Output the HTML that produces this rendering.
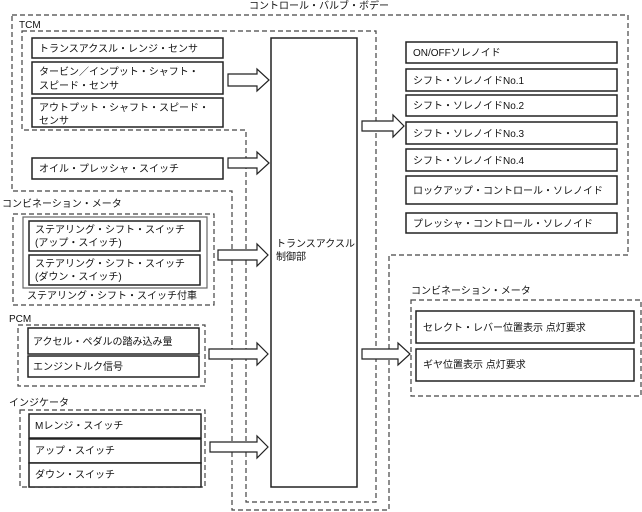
<!DOCTYPE html>
<html><head><meta charset="utf-8"><style>
html,body{margin:0;padding:0;background:#fff}
svg{display:block}
text{font-family:"Liberation Sans","Noto Sans CJK JP",sans-serif;font-size:10px;fill:#111}
.d{fill:none;stroke:#444;stroke-width:1.2;stroke-dasharray:5,3}
.b{fill:#fff;stroke:#222;stroke-width:1.5}
.a{fill:#fff;stroke:#222;stroke-width:1.2}
</style></head><body>
<svg width="642" height="512" viewBox="0 0 642 512" xmlns="http://www.w3.org/2000/svg">
<text x="249" y="9">コントロール・バルブ・ボデー</text>
<path class="d" d="M12,15 H628 V255 H389 V510 H232 V191 H12 Z"/>
<path class="d" d="M22,31 H376 V502 H246 V130 H22 Z"/>
<text x="19" y="28">TCM</text>
<rect class="b" x="271" y="38" width="86" height="449"/>
<text x="276" y="247">トランスアクスル</text>
<text x="276" y="260">制御部</text>

<rect class="b" x="32" y="38" width="191" height="20"/>
<text x="39" y="52">トランスアクスル・レンジ・センサ</text>
<rect class="b" x="32" y="62" width="191" height="32"/>
<text x="39" y="75">タービン／インプット・シャフト・</text>
<text x="39" y="89">スピード・センサ</text>
<rect class="b" x="32" y="98" width="191" height="29"/>
<text x="39" y="111">アウトプット・シャフト・スピード・</text>
<text x="39" y="124">センサ</text>
<rect class="b" x="32" y="158" width="191" height="21"/>
<text x="39" y="172">オイル・プレッシャ・スイッチ</text>

<text x="2" y="207">コンビネーション・メータ</text>
<rect class="d" x="13" y="214" width="201" height="91"/>
<rect x="23" y="217" width="184" height="71" fill="none" stroke="#666" stroke-width="1.2"/>
<rect class="b" x="29" y="221" width="171" height="30"/>
<text x="35" y="233">ステアリング・シフト・スイッチ</text>
<text x="35" y="246">(アップ・スイッチ)</text>
<rect class="b" x="29" y="255" width="171" height="30"/>
<text x="35" y="267">ステアリング・シフト・スイッチ</text>
<text x="35" y="280">(ダウン・スイッチ)</text>
<text x="27" y="299">ステアリング・シフト・スイッチ付車</text>

<text x="9" y="322">PCM</text>
<rect class="d" x="18" y="325" width="187" height="61"/>
<rect class="b" x="28" y="328" width="171" height="26"/>
<text x="33" y="345">アクセル・ペダルの踏み込み量</text>
<rect class="b" x="28" y="356" width="171" height="21"/>
<text x="33" y="370">エンジントルク信号</text>

<text x="9" y="406">インジケータ</text>
<rect class="d" x="20" y="410" width="185" height="77"/>
<rect class="b" x="29" y="414" width="172" height="24"/>
<text x="35" y="429">Mレンジ・スイッチ</text>
<rect class="b" x="29" y="439" width="172" height="24"/>
<text x="35" y="454">アップ・スイッチ</text>
<rect class="b" x="29" y="463" width="172" height="24"/>
<text x="35" y="478">ダウン・スイッチ</text>

<g class="a">
<polygon points="228,74 257,74 257,69 269,80 257,91 257,86 228,86"/>
<polygon points="228,158 257,158 257,152 269,163 257,174 257,168 228,168"/>
<polygon points="218,250 257,250 257,244 268,255 257,266 257,260 218,260"/>
<polygon points="209,349 257,349 257,343 268,354 257,365 257,359 209,359"/>
<polygon points="210,442 257,442 257,436 268,447 257,458 257,452 210,452"/>
<polygon points="362,121 393,121 393,115 404,126 393,137 393,131 362,131"/>
<polygon points="362,349 398,349 398,343 410,354 398,365 398,359 362,359"/>
</g>

<rect class="b" x="406" y="42" width="211" height="21"/>
<text x="413" y="56">ON/OFFソレノイド</text>
<rect class="b" x="406" y="69" width="211" height="22"/>
<text x="413" y="84">シフト・ソレノイドNo.1</text>
<rect class="b" x="406" y="95" width="211" height="21"/>
<text x="413" y="109">シフト・ソレノイドNo.2</text>
<rect class="b" x="406" y="122" width="211" height="22"/>
<text x="413" y="137">シフト・ソレノイドNo.3</text>
<rect class="b" x="406" y="149" width="211" height="22"/>
<text x="413" y="164">シフト・ソレノイドNo.4</text>
<rect class="b" x="406" y="176" width="211" height="28"/>
<text x="413" y="194">ロックアップ・コントロール・ソレノイド</text>
<rect class="b" x="406" y="213" width="211" height="20"/>
<text x="413" y="227">プレッシャ・コントロール・ソレノイド</text>

<text x="411" y="294">コンビネーション・メータ</text>
<rect class="d" x="411" y="300" width="230" height="96"/>
<rect class="b" x="416" y="311" width="218" height="32"/>
<text x="423" y="331">セレクト・レバー位置表示 点灯要求</text>
<rect class="b" x="416" y="349" width="218" height="32"/>
<text x="423" y="368">ギヤ位置表示 点灯要求</text>
</svg>
</body></html>
